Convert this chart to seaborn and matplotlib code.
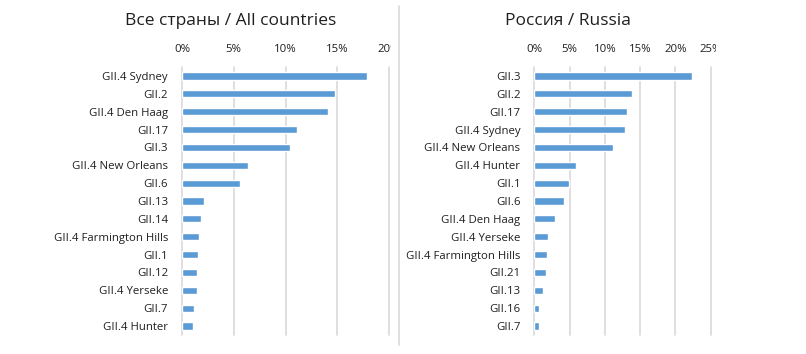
import matplotlib
matplotlib.use("Agg")
import matplotlib.pyplot as plt
import seaborn as sns
import pandas as pd
from matplotlib.lines import Line2D
from matplotlib.transforms import Bbox, TransformedBbox

# All countries
all_labels = ["GII.4 Sydney", "GII.2", "GII.4 Den Haag", "GII.17", "GII.3",
              "GII.4 New Orleans", "GII.6", "GII.13", "GII.14",
              "GII.4 Farmington Hills", "GII.1", "GII.12", "GII.4 Yerseke",
              "GII.7", "GII.4 Hunter"]
all_values = [17.9, 14.8, 14.1, 11.1, 10.4, 6.4, 5.6, 2.1, 1.8, 1.6, 1.55,
              1.45, 1.45, 1.15, 1.1]

# Russia
ru_labels = ["GII.3", "GII.2", "GII.17", "GII.4 Sydney", "GII.4 New Orleans",
             "GII.4 Hunter", "GII.1", "GII.6", "GII.4 Den Haag",
             "GII.4 Yerseke", "GII.4 Farmington Hills", "GII.21", "GII.13",
             "GII.16", "GII.7"]
ru_values = [22.3, 13.9, 13.1, 12.85, 11.1, 5.9, 4.9, 4.2, 2.9, 2.0, 1.8,
             1.65, 1.2, 0.7, 0.7]

all_ticks = [0, 5, 10, 15, 20]
ru_ticks = [0, 5, 10, 15, 20, 25]

BLUE = "#5B9BD5"
GRID = "#D9D9D9"
TEXT = "#1F1F1F"

sns.set_style("white")
plt.rcParams["font.family"] = ["Open Sans", "DejaVu Sans"]

W, H = 806, 354
fig = plt.figure(figsize=(W / 100, H / 100), dpi=100)


def px_axes(x0, x1, y0, y1):
    return fig.add_axes([x0 / W, 1 - y1 / H, (x1 - x0) / W, (y1 - y0) / H])


def draw_panel(ax, labels, values, ticks, title, title_x, clip_x):
    df = pd.DataFrame({"label": labels, "value": values})
    sns.barplot(data=df, x="value", y="label", orient="h", color=BLUE,
                saturation=1, width=0.4, ax=ax, zorder=3)
    ax.set_xlim(ticks[0], ticks[-1])
    ax.set_ylim(len(labels) - 0.5, -0.5)
    ax.set_xticks(ticks)
    ax.set_xticklabels([f"{t}%" for t in ticks])
    ax.xaxis.tick_top()
    ax.tick_params(axis="x", length=0, pad=9, labelsize=8.2, colors=TEXT)
    ax.tick_params(axis="y", length=0, pad=10, labelsize=8.2, colors=TEXT)
    for t in ticks:
        ax.axvline(t, color=GRID, lw=1.2, zorder=1, clip_on=False)
    for s in ax.spines.values():
        s.set_visible(False)
    ax.set_xlabel("")
    ax.set_ylabel("")
    # the last tick label is cut at the chart edge, as in the original
    clip = TransformedBbox(Bbox([[0, 0], [clip_x / W, 1]]), fig.transFigure)
    for lab in ax.get_xticklabels():
        lab.set_clip_box(clip)
        lab.set_clip_on(True)
    fig.text(title_x / W, 1 - 21 / H, title, ha="center", va="center",
             fontsize=12.5, color=TEXT)


ax1 = px_axes(182, 389, 67, 335)
draw_panel(ax1, all_labels, all_values, all_ticks,
           "Все страны / All countries", 231, 391)

ax2 = px_axes(534.3, 710.7, 67, 335)
draw_panel(ax2, ru_labels, ru_values, ru_ticks,
           "Россия / Russia", 568, 716)

# separator between the two charts
fig.add_artist(Line2D([398.5 / W, 398.5 / W], [1 - 6 / H, 1 - 345 / H],
                      transform=fig.transFigure, color=GRID, lw=1.2))

fig.savefig("out.png", dpi=100)
